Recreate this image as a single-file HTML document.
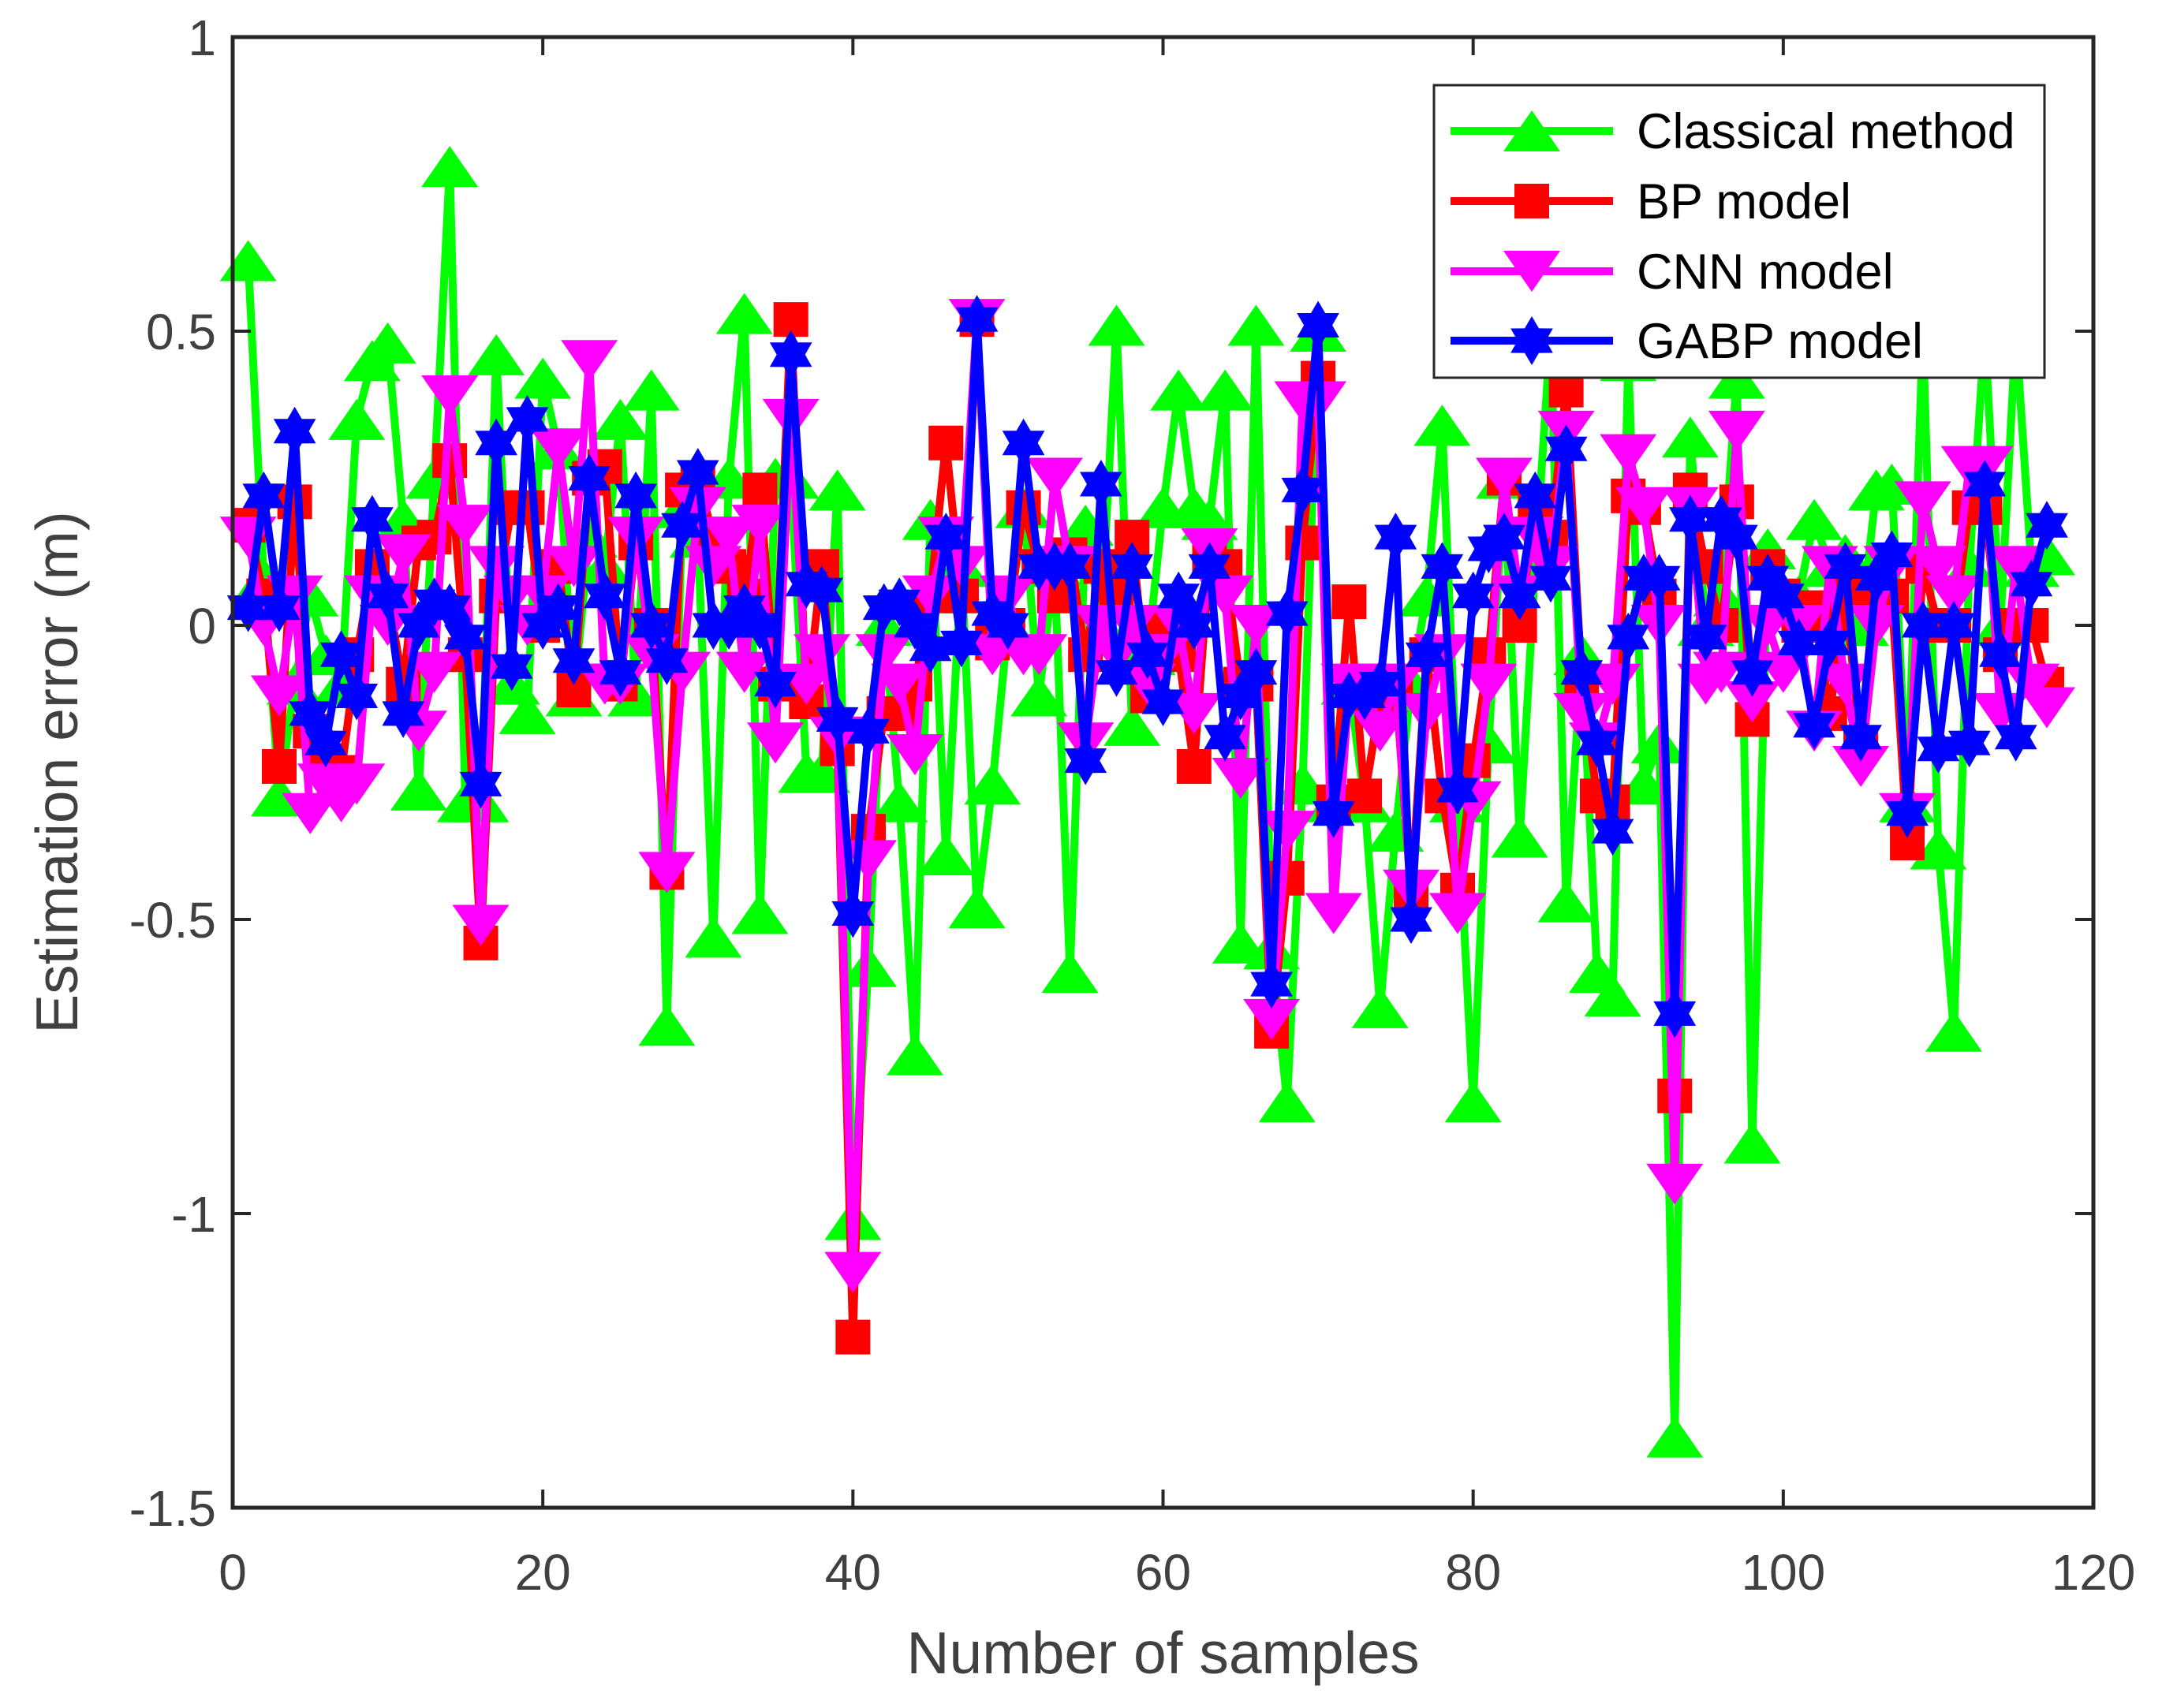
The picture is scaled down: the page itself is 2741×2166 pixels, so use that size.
<!DOCTYPE html>
<html><head><meta charset="utf-8"><style>
html,body{margin:0;padding:0;background:#fff;}
svg{display:block;font-family:"Liberation Sans",Arial,sans-serif;}
</style></head><body>
<svg id="chart" width="2741" height="2166" viewBox="0 0 2741 2166" xmlns="http://www.w3.org/2000/svg">
<rect x="0" y="0" width="2741" height="2166" fill="#fff"/>
<g id="series"></g>
<g id="axes"></g>
<g id="legend"></g>
</svg>
<script>
const xTicks=[0,20,40,60,80,100,120];
const yTicks=[-1.5,-1,-0.5,0,0.5,1];
const yTickLabels=["-1.5","-1","-0.5","0","0.5","1"];
const seriesNames=["Classical method","BP model","CNN model","GABP model"];
const classical=[0.62,0.08,-0.29,-0.1,0.05,-0.05,-0.1,0.35,0.45,0.48,0.18,-0.28,0.25,0.78,-0.3,-0.3,0.46,-0.1,-0.15,0.42,0.3,-0.12,0.15,0.1,0.35,-0.12,0.4,-0.68,0.2,0.15,-0.53,0.25,0.53,-0.49,0.25,0.25,-0.25,-0.25,0.23,-1.01,-0.58,0.0,-0.3,-0.73,0.18,-0.39,0.1,-0.48,-0.27,0.0,0.2,-0.12,0.1,-0.59,0.17,0.0,0.51,-0.17,-0.05,0.2,0.4,0.2,0.18,0.4,-0.54,0.51,-0.55,-0.81,-0.27,0.5,-0.3,-0.1,-0.3,-0.65,-0.35,-0.1,0.05,0.34,-0.3,-0.81,-0.2,0.25,-0.36,0.1,0.5,-0.47,-0.05,-0.59,-0.63,0.45,-0.27,-0.2,-1.38,0.32,0.0,0.05,0.42,-0.88,0.13,0.05,0.05,0.18,0.1,0.12,0.0,0.23,0.24,-0.3,0.5,-0.38,-0.69,0.1,0.5,0.0,0.5,0.1,0.12];
const bp=[0.17,0.05,-0.24,0.21,-0.18,-0.23,-0.25,-0.05,0.1,0.05,-0.1,0.14,0.15,0.28,-0.05,-0.54,0.05,0.2,0.2,0.0,0.1,-0.11,0.25,0.27,-0.1,0.14,0.0,-0.42,0.23,0.25,0.15,0.1,0.05,0.23,-0.1,0.52,-0.13,0.1,-0.21,-1.21,-0.35,-0.15,-0.15,-0.1,0.05,0.31,0.05,0.52,-0.03,0.0,0.2,0.1,0.05,0.12,-0.05,0.1,0.05,0.15,-0.12,0.0,-0.05,-0.24,0.12,0.1,-0.1,-0.1,-0.69,-0.43,0.14,0.42,-0.3,0.04,-0.29,-0.13,-0.1,-0.46,-0.05,-0.29,-0.45,-0.23,-0.05,0.25,0.0,0.2,0.15,0.4,-0.1,-0.29,-0.3,0.22,0.2,0.05,-0.8,0.23,0.1,0.0,0.21,-0.16,0.1,0.05,0.0,0.03,-0.15,0.05,-0.2,0.05,0.05,-0.37,0.1,0.0,0.0,0.2,0.2,-0.05,0.0,0.0,-0.1];
const cnn=[0.15,0.0,-0.12,0.05,-0.32,-0.27,-0.3,-0.27,0.05,0.0,0.12,-0.18,-0.08,0.39,0.17,-0.51,0.1,0.05,0.0,0.05,0.3,0.1,0.45,-0.1,-0.1,0.15,-0.05,-0.42,-0.08,0.2,0.1,0.15,-0.08,0.17,-0.2,0.35,-0.1,-0.05,-0.19,-1.1,-0.4,-0.05,-0.1,-0.22,0.05,0.15,0.1,0.52,-0.05,0.05,-0.05,-0.05,0.25,0.1,-0.2,0.0,-0.05,0.0,-0.1,-0.05,0.0,-0.15,0.13,0.05,-0.26,0.0,-0.67,-0.35,0.38,0.38,-0.49,-0.1,-0.1,-0.18,-0.1,-0.45,-0.15,-0.05,-0.49,-0.3,-0.1,0.25,0.05,0.15,0.1,0.33,-0.15,-0.2,-0.1,0.29,0.2,0.0,-0.95,0.2,-0.1,-0.08,0.33,-0.13,0.0,-0.08,0.0,-0.18,0.1,-0.1,-0.24,0.0,0.1,-0.32,0.21,0.1,0.05,0.27,0.27,-0.15,0.1,-0.1,-0.14];
const gabp=[0.03,0.22,0.03,0.33,-0.15,-0.2,-0.05,-0.12,0.18,0.05,-0.15,0.0,0.04,0.03,-0.02,-0.27,0.31,-0.07,0.35,0.0,0.03,-0.06,0.25,0.05,-0.08,0.22,0.0,-0.06,0.17,0.26,0.0,0.0,0.03,0.0,-0.1,0.46,0.07,0.06,-0.16,-0.49,-0.18,0.03,0.04,0.0,-0.04,0.15,-0.03,0.52,0.02,0.0,0.31,0.1,0.1,0.1,-0.23,0.24,-0.08,0.1,-0.05,-0.13,0.05,0.0,0.1,-0.19,-0.12,-0.08,-0.61,0.02,0.23,0.51,-0.32,-0.12,-0.12,-0.1,0.15,-0.5,-0.05,0.1,-0.28,0.05,0.13,0.15,0.05,0.22,0.08,0.3,-0.08,-0.2,-0.35,-0.02,0.08,0.08,-0.66,0.18,-0.02,0.18,0.15,-0.08,0.08,0.05,-0.03,-0.17,-0.03,0.1,-0.19,0.08,0.12,-0.32,0.0,-0.21,0.0,-0.2,0.24,-0.05,-0.19,0.07,0.17];

const NS="http://www.w3.org/2000/svg";
const L=295,R=2654,T=47,B=1912;
const xMin=0,xMax=120,yMin=-1.5,yMax=1;
function sx(v){return L+(v-xMin)/(xMax-xMin)*(R-L);}
function sy(v){return B-(v-yMin)/(yMax-yMin)*(B-T);}
function mk(tag,attrs,parent){const e=document.createElementNS(NS,tag);for(const k in attrs)e.setAttribute(k,attrs[k]);parent.appendChild(e);return e;}

function markerPath(type,cx,cy){
  if(type==="tri"){return `M${cx},${cy-26} L${cx+36},${cy+26} L${cx-36},${cy+26} Z`;}
  if(type==="tridown"){return `M${cx},${cy+26} L${cx+36},${cy-26} L${cx-36},${cy-26} Z`;}
  if(type==="sq"){return `M${cx-22},${cy-22} h44 v44 h-44 Z`;}
  const r=31,ri=18;let d="";
  for(let k=0;k<12;k++){const a=-Math.PI/2+k*Math.PI/6;const rr=k%2===0?r:ri;d+=(k?"L":"M")+(cx+rr*Math.cos(a)).toFixed(1)+","+(cy+rr*Math.sin(a)).toFixed(1);}
  return d+"Z";
}

const seriesData=[classical,bp,cnn,gabp];
const colors=["#00ff00","#ff0000","#ff00ff","#0000ff"];
const markers=["tri","sq","tridown","star"];
const keys=["classical","bp","cnn","gabp"];
const sg=document.getElementById("series");
seriesData.forEach((arr,si)=>{
  const g=mk("g",{},sg);
  
  
  const pts=arr.map((v,i)=>sx(i+1).toFixed(1)+","+sy(v).toFixed(1)).join(" ");
  const line=mk("polyline",{points:pts,fill:"none",stroke:colors[si],"stroke-width":10,"stroke-linejoin":"miter","stroke-miterlimit":3},g);
  
  
  arr.forEach((v,i)=>{
    const m=mk("path",{d:markerPath(markers[si],sx(i+1),sy(v)),fill:colors[si]},g);
    
    
  });
});

const ax=document.getElementById("axes");
const box=mk("rect",{x:L,y:T,width:R-L,height:B-T,fill:"none",stroke:"#262626","stroke-width":5},ax);


xTicks.forEach(t=>{
  const x=sx(t);
  mk("line",{x1:x,y1:B,x2:x,y2:B-23,stroke:"#262626","stroke-width":4},ax);
  mk("line",{x1:x,y1:T,x2:x,y2:T+23,stroke:"#262626","stroke-width":4},ax);
  const tx=mk("text",{x:x,y:2016,"text-anchor":"middle","font-size":64,fill:"#404040"},ax);
  tx.textContent=String(t);
  
  
});
yTicks.forEach((t,i)=>{
  const y=sy(t);
  mk("line",{x1:L,y1:y,x2:L+23,y2:y,stroke:"#262626","stroke-width":4},ax);
  mk("line",{x1:R,y1:y,x2:R-23,y2:y,stroke:"#262626","stroke-width":4},ax);
  const ty=mk("text",{x:274,y:y+23,"text-anchor":"end","font-size":64,fill:"#404040"},ax);
  ty.textContent=yTickLabels[i];
  
  
});
const xt=mk("text",{x:(L+R)/2,y:2122,"text-anchor":"middle","font-size":75,fill:"#404040"},ax);
xt.textContent="Number of samples";


const yt=mk("text",{x:0,y:0,"text-anchor":"middle","font-size":75,fill:"#404040",transform:`translate(98,${(T+B)/2}) rotate(-90)`},ax);
yt.textContent="Estimation error (m)";



const lg=document.getElementById("legend");
const lbox=mk("rect",{x:1818,y:108,width:774,height:371,fill:"#fff",stroke:"#262626","stroke-width":3},lg);


const ly=[166,255,344,432];
seriesNames.forEach((n,si)=>{
  const g=mk("g",{},lg);
  
  
  mk("line",{x1:1839,y1:ly[si],x2:2045,y2:ly[si],stroke:colors[si],"stroke-width":10},g);
  mk("path",{d:markerPath(markers[si],1942,ly[si]),fill:colors[si]},g);
  const t=mk("text",{x:2075,y:ly[si]+22,"font-size":63,fill:"#000"},g);
  t.textContent=n;
});
</script>
</body></html>
